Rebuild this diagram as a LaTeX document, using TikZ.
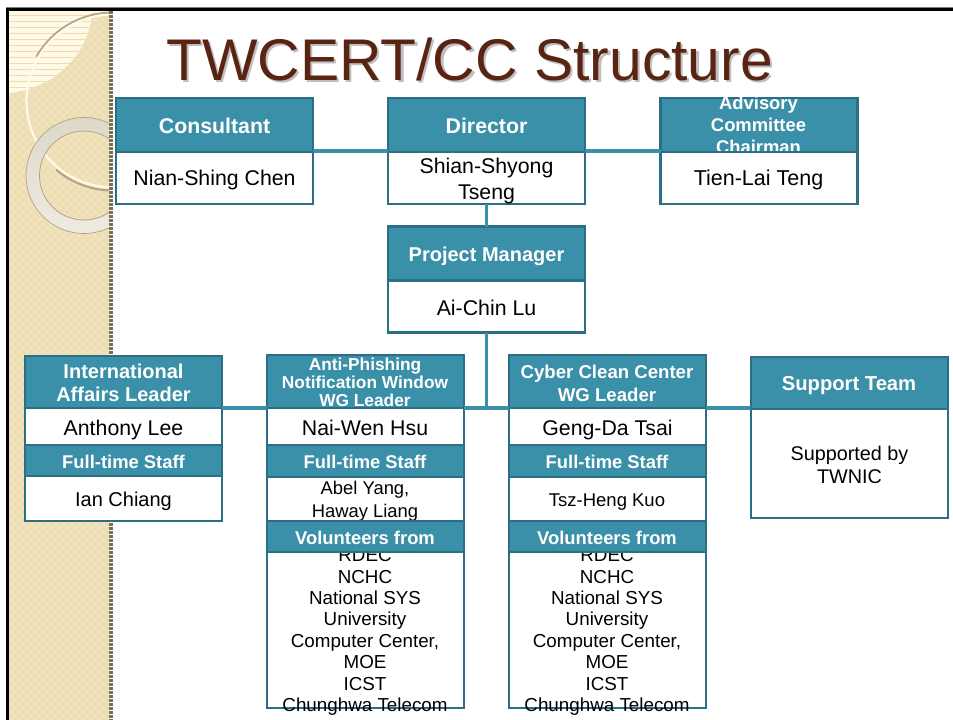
\documentclass[tikz,border=0pt]{standalone}
\usepackage{fontspec}
\setmainfont{Liberation Sans}
\definecolor{tealfill}{HTML}{3A90A8}
\definecolor{tealedge}{HTML}{2C6F84}
\definecolor{titlebrown}{HTML}{5A2413}
\definecolor{tanbase}{HTML}{F1E2BB}
\definecolor{tandark}{HTML}{EDDDB2}
\definecolor{creamy}{HTML}{FFF9E8}
\definecolor{stripe}{HTML}{F0DCA8}
\definecolor{arcbrown}{HTML}{B3A488}
\definecolor{dotcol}{HTML}{7A6E55}
\definecolor{ringtop}{HTML}{DDD8C8}
\definecolor{ringbot}{HTML}{EEEBE2}
\tikzset{
  hd/.style={rectangle,draw=tealedge,fill=tealfill,line width=2.4pt,minimum width=197,inner sep=0,outer sep=0},
  bd/.style={rectangle,draw=tealedge,fill=white,line width=2.4pt,minimum width=197,inner sep=0,outer sep=0},
  ht/.style 2 args={text=white,inner sep=0,align=center,font=\fontsize{#1}{#2}\selectfont\bfseries},
  bt/.style 2 args={text=black,inner sep=0,align=center,font=\fontsize{#1}{#2}\selectfont},
  link/.style={draw=tealfill,line width=3.4pt},
}
\begin{document}
\begin{tikzpicture}[x=1pt,y=-1pt]
\useasboundingbox (0,0) rectangle (953,720);
\fill[white] (0,0) rectangle (953,720);
% --- slide decoration ---
\fill[tanbase] (9,10) rectangle (109,720);
\foreach \r in {0,...,177}{
  \pgfmathsetmacro{\ph}{mod(\r,2)*4}
  \draw[tandark,line width=4pt,dash pattern=on 4pt off 4pt,dash phase=\ph pt] (9,{12+4*\r}) -- (109,{12+4*\r});
}
\begin{scope}
  \clip (9,10) -- (92,10) -- (92,14) .. controls (88,55) and (55,88) .. (9,93) -- cycle;
  \fill[creamy] (9,10) rectangle (92,95);
  \foreach \k in {0,...,13}{
    \fill[stripe] (9,{14.5+6*\k}) rectangle (92,{16.2+6*\k});
  }
\end{scope}
\fill[creamy] (40,10) rectangle (109,12.5);
\begin{scope}
  \clip (9,10) rectangle (109,720);
  \draw[arcbrown,line width=2pt] (113,12.5) arc[start angle=-90,end angle=-150,radius=88.5];
  \draw[arcbrown,line width=2pt] (113,190.5) arc[start angle=90,end angle=130,radius=88.5];
  \draw[creamy,line width=2.2pt] (113,14.5) arc[start angle=-90,end angle=-270,radius=86.5];
  \shade[even odd rule,top color=ringtop,bottom color=ringbot] (84,175.5) circle (58) (84,175.5) circle (44.5);
  \draw[arcbrown,line width=.7pt] (84,175.5) circle (58);
  \draw[arcbrown,line width=.8pt] (84,175.5) circle (44.5);
\end{scope}
\draw[dotcol,line width=4pt,dash pattern=on 3pt off 1pt] (111,11) -- (111,720);
\draw[black,line width=3pt] (7.5,720) -- (7.5,9) -- (953,9);
\draw[gray,line width=.8pt] (6,7.3) -- (953,7.3);
% --- title ---
\node[text=black!25,inner sep=0,font=\fontsize{58.8}{60}\selectfont] (titleshadow) at (471.8,61.5) {TWCERT/CC Structure};
\node[text=titlebrown,inner sep=0,font=\fontsize{58.8}{60}\selectfont] (title) at (469.5,59.5) {TWCERT/CC Structure};
\coordinate (jn) at (486.5,408);
% --- top row ---
\node[hd,minimum height=54] (conh) at (214.5,125) {};
\node[ht={21.3}{24}] (cont) at (214.5,126) {Consultant};
\node[bd,minimum height=52] (conb) at (214.5,178) {};
\node[bt={21.3}{26}] (conbt) at (214.5,180) {Nian-Shing Chen};
\node[hd,minimum height=54] (dirh) at (486.5,125) {};
\node[ht={21.3}{24}] (dirt) at (486.5,126) {Director};
\node[bd,minimum height=52] (dirb) at (486.5,178) {};
\node[bt={21.3}{26}] (dirbt) at (486.5,181) {Shian-Shyong~\\Tseng};
\node[hd,minimum height=54] (advh) at (759,125) {};
\begin{scope}
  \clip (661,97) rectangle (858,153);
  \node[ht={18.4}{22}] (advt) at (758.5,125) {Advisory\\Committee\\Chairman};
\end{scope}
\node[bd,minimum height=52] (advb) at (759,178) {};
\node[bt={21.5}{26}] (advbt) at (758.5,180) {Tien-Lai Teng};
% --- project manager ---
\node[hd,minimum height=54] (pmh) at (486.5,253.5) {};
\node[ht={20}{24}] (pmt) at (486.5,256.5) {Project Manager};
\node[bd,minimum height=52] (pmb) at (486.5,306.5) {};
\node[bt={21.3}{26}] (pmbt) at (486.5,307.5) {Ai-Chin Lu};
% --- international ---
\node[hd,minimum height=52] (inth) at (123.5,382) {};
\node[ht={20}{23}] (intt) at (123.5,383) {International\\Affairs Leader};
\node[bd,minimum height=37] (intb) at (123.5,426.5) {};
\node[bt={21.3}{26}] (intbt) at (123.5,429.5) {Anthony Lee};
\node[hd,minimum height=31] (intfh) at (123.5,460.5) {};
\node[ht={18.4}{22}] (intft) at (123.5,461.5) {Full-time Staff};
\node[bd,minimum height=45] (intfb) at (123.5,498.5) {};
\node[bt={20}{24}] (intfbt) at (123.5,501.5) {Ian Chiang};
% --- anti-phishing ---
\node[bd,minimum height=156] (antvb) at (365.5,630) {};
\node[bt={18.8}{21.4}] (antvbt) at (365,632) {RDEC\\NCHC\\National SYS\\University\\Computer Center,\\MOE\\ICST\\Chunghwa Telecom};
\node[hd,minimum height=53] (anth) at (365.5,381.5) {};
\node[ht={17.3}{18}] (antt) at (365,382) {Anti-Phishing\\Notification Window\\WG Leader};
\node[bd,minimum height=37] (antb) at (365.5,426.5) {};
\node[bt={21.3}{26}] (antbt) at (365,428) {Nai-Wen Hsu};
\node[hd,minimum height=32] (antfh) at (365.5,461) {};
\node[ht={18.4}{22}] (antft) at (365,462) {Full-time Staff};
\node[bd,minimum height=44] (antfb) at (365.5,499) {};
\node[bt={18.4}{22.5}] (antfbt) at (365,501) {Abel Yang,\\Haway Liang};
\node[hd,minimum height=31] (antvh) at (365.5,536.5) {};
\node[ht={18.4}{22}] (antvt) at (365,537.5) {Volunteers from};
% --- cyber clean ---
\node[bd,minimum height=156] (cybvb) at (607.5,630) {};
\node[bt={18.8}{21.4}] (cybvbt) at (607,632) {RDEC\\NCHC\\National SYS\\University\\Computer Center,\\MOE\\ICST\\Chunghwa Telecom};
\node[hd,minimum height=53] (cybh) at (607.5,381.5) {};
\node[ht={18.6}{23}] (cybt) at (607,383) {Cyber Clean Center\\WG Leader};
\node[bd,minimum height=37] (cybb) at (607.5,426.5) {};
\node[bt={21.3}{26}] (cybbt) at (607.5,429.5) {Geng-Da Tsai};
\node[hd,minimum height=32] (cybfh) at (607.5,461) {};
\node[ht={18.4}{22}] (cybft) at (607,462) {Full-time Staff};
\node[bd,minimum height=44] (cybfb) at (607.5,499) {};
\node[bt={18.5}{22}] (cybfbt) at (607,502) {Tsz-Heng Kuo};
\node[hd,minimum height=31] (cybvh) at (607.5,536.5) {};
\node[ht={18.4}{22}] (cybvt) at (607,537.5) {Volunteers from};
% --- support ---
\node[hd,minimum height=52] (suph) at (849.5,383) {};
\node[ht={20.2}{24}] (supt) at (849,386) {Support Team};
\node[bd,minimum height=109] (supb) at (849.5,463.5) {};
\node[bt={19.8}{23}] (supbt) at (849.5,464.5) {Supported by\\TWNIC};
% --- connectors ---
\draw[link] ([yshift=1pt]conh.south east) -- ([yshift=1pt]dirh.south west);
\draw[link] ([yshift=1pt]dirh.south east) -- ([yshift=1pt]advh.south west);
\draw[link] (dirb.south) -- (pmh.north);
\draw[link] (pmb.south) -- (jn);
\draw[link] (inth.south east) -- (anth.south west);
\draw[link] (anth.south east) -- (cybh.south west);
\draw[link] (cybh.south east) -- (cybh.south east -| suph.west);
\end{tikzpicture}
\end{document}
